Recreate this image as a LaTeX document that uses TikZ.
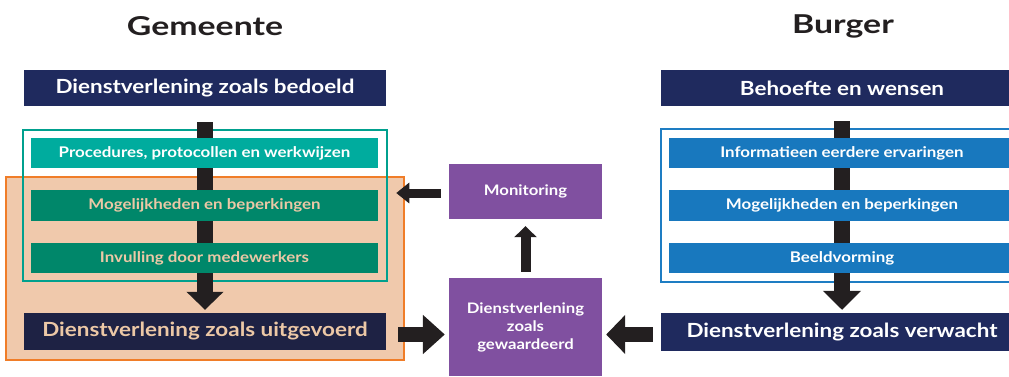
\documentclass[tikz,border=0pt]{standalone}
\usepackage{fontspec}
\setmainfont{Lato}[BoldFont={Lato Bold}, FakeStretch=1.15]
\newfontfamily\titlefont{Lato}[BoldFont={Lato Bold}, FakeStretch=1.3]
\usetikzlibrary{arrows.meta,calc}

\definecolor{navy}{RGB}{31,42,94}
\definecolor{navydark}{RGB}{30,34,68}
\definecolor{ink}{RGB}{35,31,32}
\definecolor{peach}{RGB}{240,201,172}
\definecolor{peachtext}{RGB}{236,200,166}
\definecolor{orangeline}{RGB}{240,125,40}
\definecolor{tealline}{RGB}{0,160,142}
\definecolor{teallight}{RGB}{0,172,158}
\definecolor{tealdark}{RGB}{0,135,106}
\definecolor{blueline}{RGB}{30,125,195}
\definecolor{bluebox}{RGB}{24,120,190}
\definecolor{purple}{RGB}{128,80,160}

\tikzset{
  box/.style={rectangle, inner sep=0pt, align=center, font=\bfseries},
  headbox/.style={box, fill=navy, text=white, minimum width=362pt, minimum height=36pt,
    font=\bfseries\fontsize{19.5}{22}\selectfont},
  itembox/.style={box, minimum height=30pt, font=\bfseries\fontsize{14.7}{17}\selectfont},
  purplebox/.style={box, fill=purple, text=white, minimum width=153pt,
    font=\bfseries\fontsize{14.5}{18}\selectfont},
  frame/.style={rectangle, inner sep=0pt, line width=2pt},
  title/.style={font=\titlefont\bfseries\fontsize{26}{30}\selectfont, text=ink},
  blockarrow/.style={draw=ink, line width=#1},
}

\begin{document}
\begin{tikzpicture}[x=1pt, y=-1pt]
\useasboundingbox (0,0) rectangle (1009,376);
\clip (0,0) rectangle (1009,376);

% column headings
\node[title] (gem) at (205,26) {Gemeente};
\node[title] (bur) at (843,26) {Burger};

% top boxes
\node[headbox] (bedoeld) at (205,88) {Dienstverlening zoals bedoeld};
\node[headbox] (behoefte) at (842,88) {Behoefte en wensen};

% highlighted area of the municipality column
\node[frame, fill=peach, draw=orangeline, line width=2.5pt,
      minimum width=398pt, minimum height=183pt] (ob) at (205,268.5) {};

% grouping frames
\node[frame, draw=tealline, minimum width=364pt, minimum height=151pt] (tf) at (205,205.5) {};
\node[frame, draw=blueline, minimum width=362pt, minimum height=153pt] (bf) at (842,205.5) {};

% bottom boxes (named first, the arrows run behind the item boxes)
\node[headbox, fill=navydark, text=peachtext, minimum height=37pt] (uitg) at (205,331.5)
  {Dienstverlening zoals uitgevoerd};
\node[headbox, minimum height=38pt] (verw) at (842,332) {Dienstverlening zoals verwacht};

% vertical flow arrows
\draw[blockarrow=16pt, -{Triangle[width=36pt,length=18pt]}]
  ([yshift=-16pt]bedoeld.south) -- ([yshift=3pt]uitg.north);
\draw[blockarrow=16pt, -{Triangle[width=37pt,length=19pt]}]
  ([yshift=-15pt]behoefte.south) -- ([yshift=3pt]verw.north);

% municipality items
\node[itembox, fill=teallight, text=white, minimum width=347pt] (proc) at (204.5,153)
  {Procedures, protocollen en werkwijzen};
\node[itembox, fill=tealdark, text=peachtext, minimum width=347pt, minimum height=31pt] (mogl) at (204.5,205.5)
  {Mogelijkheden en beperkingen};
\node[itembox, fill=tealdark, text=peachtext, minimum width=347pt] (inv) at (204.5,258)
  {Invulling door medewerkers};

% citizen items
\node[itembox, fill=bluebox, text=white, minimum width=346pt] (info) at (842,153)
  {Informatieen eerdere ervaringen};
\node[itembox, fill=bluebox, text=white, minimum width=346pt, minimum height=31pt] (mogr) at (842,205.5)
  {Mogelijkheden en beperkingen};
\node[itembox, fill=bluebox, text=white, minimum width=346pt] (beeld) at (842,258)
  {Beeldvorming};

% evaluation and monitoring
\node[purplebox, minimum height=55pt] (mon) at (525.5,191.5) {Monitoring};
\node[purplebox, minimum height=98pt] (gew) at (525.5,327) {Dienstverlening\\zoals\\gewaardeerd};

% feedback arrows
\draw[blockarrow=10pt, -{Triangle[width=22pt,length=11pt]}]
  ([yshift=6pt]gew.north) -- ([yshift=-7pt]mon.south);
\coordinate (monout) at ([shift={(-8,1.5)}]mon.west);
\draw[blockarrow=9pt, -{Triangle[width=20pt,length=13pt]}]
  (monout) -- (monout -| ob.east) -- ++(-9,0);
\coordinate (uitout) at ([shift={(12,3)}]uitg.east);
\draw[blockarrow=15pt, -{Triangle[width=38pt,length=22pt]}, shorten >=4pt]
  (uitout) -- (uitout -| gew.west);
\coordinate (verout) at ([shift={(-8,2.5)}]verw.west);
\draw[blockarrow=15pt, -{Triangle[width=38pt,length=19pt]}, shorten >=4pt]
  (verout) -- (verout -| gew.east);
\end{tikzpicture}
\end{document}
